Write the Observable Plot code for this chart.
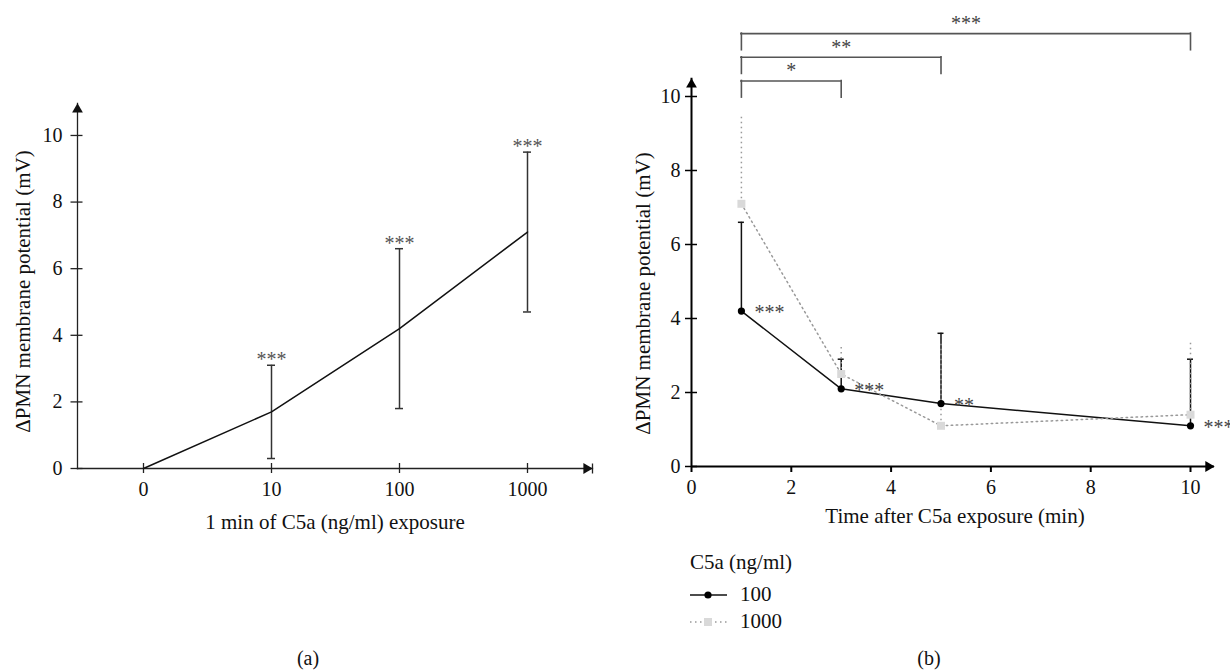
<!DOCTYPE html>
<html><head><meta charset="utf-8">
<script src="https://cdn.jsdelivr.net/npm/d3@7"></script>
<script src="https://cdn.jsdelivr.net/npm/@observablehq/plot@0.6"></script>
<style>
body{margin:0;background:#fff;font-family:"Liberation Serif","Times New Roman",serif;color:#111;}
#wrap{position:relative;width:1230px;height:671px;overflow:hidden;}
#pa{position:absolute;left:0;top:0;}
#pb{position:absolute;left:615px;top:0;}
.lg{position:absolute;font-size:21px;line-height:24px;white-space:nowrap;}
.cap{position:absolute;font-size:20px;line-height:24px;transform:translateX(-50%);}
</style></head><body>
<div id="wrap">
  <div id="pa"></div><div id="pb"></div>
  <div class="lg" style="left:690px;top:550px">C5a (ng/ml)</div>
  <svg style="position:absolute;left:689px;top:585px" width="40" height="20">
    <line x1="1" y1="10" x2="38" y2="10" stroke="#111" stroke-width="1.5"/>
    <circle cx="19" cy="10" r="3.6" fill="#000"/>
  </svg>
  <div class="lg" style="left:740px;top:582px">100</div>
  <svg style="position:absolute;left:689px;top:612px" width="40" height="20">
    <line x1="1" y1="10" x2="38" y2="10" stroke="#999" stroke-width="1.5" stroke-dasharray="1.5 3.5"/>
    <rect x="15" y="6" width="8" height="8" fill="#d9d9d9"/>
  </svg>
  <div class="lg" style="left:740px;top:609px">1000</div>
  <div class="cap" style="left:308px;top:646px">(a)</div>
  <div class="cap" style="left:929px;top:646px">(b)</div>
</div>
<script>
// ---- Panel (a) data ----
const doseLabels = ["0", "10", "100", "1000"];
const doseMean = [0, 1.7, 4.2, 7.1];
const doseErrLow = [null, 0.3, 1.8, 4.7];
const doseErrHigh = [null, 3.1, 6.6, 9.5];
const doseSig = ["", "***", "***", "***"];

// ---- Panel (b) data ----
const timeMin = [1, 3, 5, 10];
const mean100 = [4.2, 2.1, 1.7, 1.1];
const errTop100 = [6.6, 2.9, 3.6, 2.9];
const sig100 = ["***", "***", "**", "***"];
const mean1000 = [7.1, 2.5, 1.1, 1.4];
const errTop1000 = [9.5, 3.25, 3.4, 3.4];

const bracketFrom = [1, 1, 1];
const bracketTo = [3, 5, 10];
const bracketLabel = ["*", "**", "***"];
const bracketLevel = [10.42, 11.06, 11.7];

const yTicks = [0, 2, 4, 6, 8, 10];
const timeTicks = [0, 2, 4, 6, 8, 10];

const yLabel = "ΔPMN membrane potential (mV)";
const xLabelA = "1 min of C5a (ng/ml) exposure";
const xLabelB = "Time after C5a exposure (min)";

const fontFam = '"Liberation Serif", "Times New Roman", serif';
const hTick = {draw(ctx) { ctx.moveTo(-7, 0); ctx.lineTo(5, 0); }};
const endBar = {draw(ctx) { ctx.moveTo(0, -5); ctx.lineTo(0, 5); }};
const titleStyle = {fontSize: 21, fill: "#111", textAnchor: "middle", lineAnchor: "middle", letterSpacing: "0.3px"};

const dose = doseLabels.map((d, i) => ({d, m: doseMean[i], lo: doseErrLow[i], hi: doseErrHigh[i], s: doseSig[i]}));
const doseErr = dose.filter(r => r.hi != null);

const plotA = Plot.plot({
  width: 615, height: 545,
  marginLeft: 77, marginRight: 23, marginTop: 103, marginBottom: 77,
  style: {fontFamily: fontFam, fontSize: "20px", color: "#111", background: "transparent", overflow: "visible"},
  x: {type: "point", domain: doseLabels, padding: 0.5, axis: null},
  y: {domain: [0, 10.96], axis: null},
  marks: [
    Plot.axisX(doseLabels, {tickSize: 0, tickPadding: 13, label: null, fontSize: 20}),
    Plot.axisY(yTicks, {tickSize: 0, tickPadding: 15, label: null, fontSize: 20}),
    Plot.frame({anchor: "left", stroke: "#222", strokeWidth: 1.3}),
    Plot.frame({anchor: "bottom", stroke: "#222", strokeWidth: 1.3}),
    Plot.dot(yTicks, {y: d => d, frameAnchor: "left", symbol: hTick, stroke: "#222", strokeWidth: 1.3}),
    Plot.ruleX(doseLabels, {x: d => d, y1: 0, y2: 0, insetTop: -5, insetBottom: -5, stroke: "#222", strokeWidth: 1.3}),
    Plot.dot([0], {frameAnchor: "top-left", symbol: "triangle", r: 4, fill: "#111", stroke: null, dy: 6}),
    Plot.dot([0], {y: 0, frameAnchor: "right", symbol: "triangle", rotate: 90, r: 4, fill: "#111", stroke: null, dx: -6}),
    Plot.dot([0], {y: 0, frameAnchor: "right", symbol: endBar, stroke: "#222", strokeWidth: 1.3}),
    Plot.ruleX(doseErr, {x: "d", y1: "lo", y2: "hi", stroke: "#333", strokeWidth: 1.5}),
    Plot.ruleY(doseErr, {y: "lo", x1: "d", x2: "d", insetLeft: -4, insetRight: -4, stroke: "#333", strokeWidth: 1.5}),
    Plot.ruleY(doseErr, {y: "hi", x1: "d", x2: "d", insetLeft: -4, insetRight: -4, stroke: "#333", strokeWidth: 1.5}),
    Plot.lineY(dose, {x: "d", y: "m", stroke: "#111", strokeWidth: 1.5}),
    Plot.text(doseErr, {x: "d", y: "hi", text: "s", lineAnchor: "bottom", dy: 1, fill: "#555", fontSize: 20}),
    Plot.text([yLabel], {text: d => d, frameAnchor: "left", rotate: -90, dx: -54, dy: 5.5, ...titleStyle}),
    Plot.text([xLabelA], {text: d => d, frameAnchor: "bottom", dy: 54, ...titleStyle})
  ]
});
document.getElementById("pa").append(plotA);

const s100 = timeMin.map((t, i) => ({t, m: mean100[i], top: errTop100[i], s: sig100[i]}));
const s1000 = timeMin.map((t, i) => ({t, m: mean1000[i], top: errTop1000[i]}));
const br = bracketFrom.map((f, i) => ({f, to: bracketTo[i], lab: bracketLabel[i], lev: bracketLevel[i], leg: bracketLevel[i] - 0.45, mid: (f + bracketTo[i]) / 2}));
const xAxisEnd = 10.48, yAxisEnd = 10.49;
const dotted = "1.5 3.5";

const plotB = Plot.plot({
  width: 615, height: 545,
  marginLeft: 76, marginRight: 40, marginTop: 96, marginBottom: 79,
  style: {fontFamily: fontFam, fontSize: "20px", color: "#111", background: "transparent", overflow: "visible"},
  x: {domain: [0, 10], axis: null},
  y: {domain: [0, 10], axis: null},
  marks: [
    Plot.axisX(timeTicks, {tickSize: 0, tickPadding: 13, label: null, fontSize: 20}),
    Plot.axisY(yTicks, {tickSize: 0, tickPadding: 11, label: null, fontSize: 20}),
    Plot.ruleY([0], {x1: 0, x2: xAxisEnd, stroke: "#000", strokeWidth: 2}),
    Plot.ruleX([0], {y1: 0, y2: yAxisEnd, stroke: "#000", strokeWidth: 2}),
    Plot.ruleY(yTicks, {y: d => d, x1: 0, x2: 0, insetLeft: -6, insetRight: -6, stroke: "#000", strokeWidth: 1.5}),
    Plot.ruleX(timeTicks, {x: d => d, y1: 0, y2: 0, insetBottom: -6, stroke: "#000", strokeWidth: 2}),
    Plot.dot([0], {x: xAxisEnd, y: 0, symbol: "triangle", rotate: 90, r: 4, fill: "#000", stroke: null, dx: -6}),
    Plot.dot([0], {x: 0, y: yAxisEnd, symbol: "triangle", r: 4, fill: "#000", stroke: null, dy: 6}),
    // significance brackets
    Plot.ruleY(br, {y: "lev", x1: "f", x2: "to", stroke: "#555", strokeWidth: 1.6, strokeLinecap: "square"}),
    Plot.ruleX(br, {x: "f", y1: "leg", y2: "lev", stroke: "#555", strokeWidth: 1.6, strokeLinecap: "square"}),
    Plot.ruleX(br, {x: "to", y1: "leg", y2: "lev", stroke: "#555", strokeWidth: 1.6, strokeLinecap: "square"}),
    Plot.text(br, {x: "mid", y: "lev", text: "lab", lineAnchor: "bottom", dy: -3.5, fill: "#444", fontSize: 20}),
    // 100 ng/ml series
    Plot.ruleX(s100, {x: "t", y1: "m", y2: "top", stroke: "#111", strokeWidth: 1.5}),
    Plot.ruleY(s100, {y: "top", x1: "t", x2: "t", insetLeft: -3, insetRight: -3, stroke: "#111", strokeWidth: 1.5}),
    Plot.lineY(s100, {x: "t", y: "m", stroke: "#111", strokeWidth: 1.5}),
    // 1000 ng/ml series
    Plot.lineY(s1000, {x: "t", y: "m", stroke: "#999", strokeWidth: 1.5, strokeDasharray: dotted}),
    Plot.ruleX(s1000, {x: "t", y1: "m", y2: "top", stroke: "#999", strokeWidth: 1.5, strokeDasharray: dotted}),
    Plot.dot(s1000, {x: "t", y: "m", symbol: "square", r: 4.5, fill: "#d9d9d9", stroke: null}),
    Plot.dot(s100, {x: "t", y: "m", r: 3.6, fill: "#000", stroke: null}),
    Plot.text(s100, {x: "t", y: "m", text: "s", textAnchor: "start", lineAnchor: "bottom", dx: 13, dy: 8, fill: "#444", fontSize: 20}),
    Plot.text([yLabel], {text: d => d, frameAnchor: "left", rotate: -90, dx: -48, dy: 12, ...titleStyle}),
    Plot.text([xLabelB], {text: d => d, frameAnchor: "bottom", dx: 14, dy: 50, ...titleStyle})
  ]
});
document.getElementById("pb").append(plotB);
</script>
</body></html>
